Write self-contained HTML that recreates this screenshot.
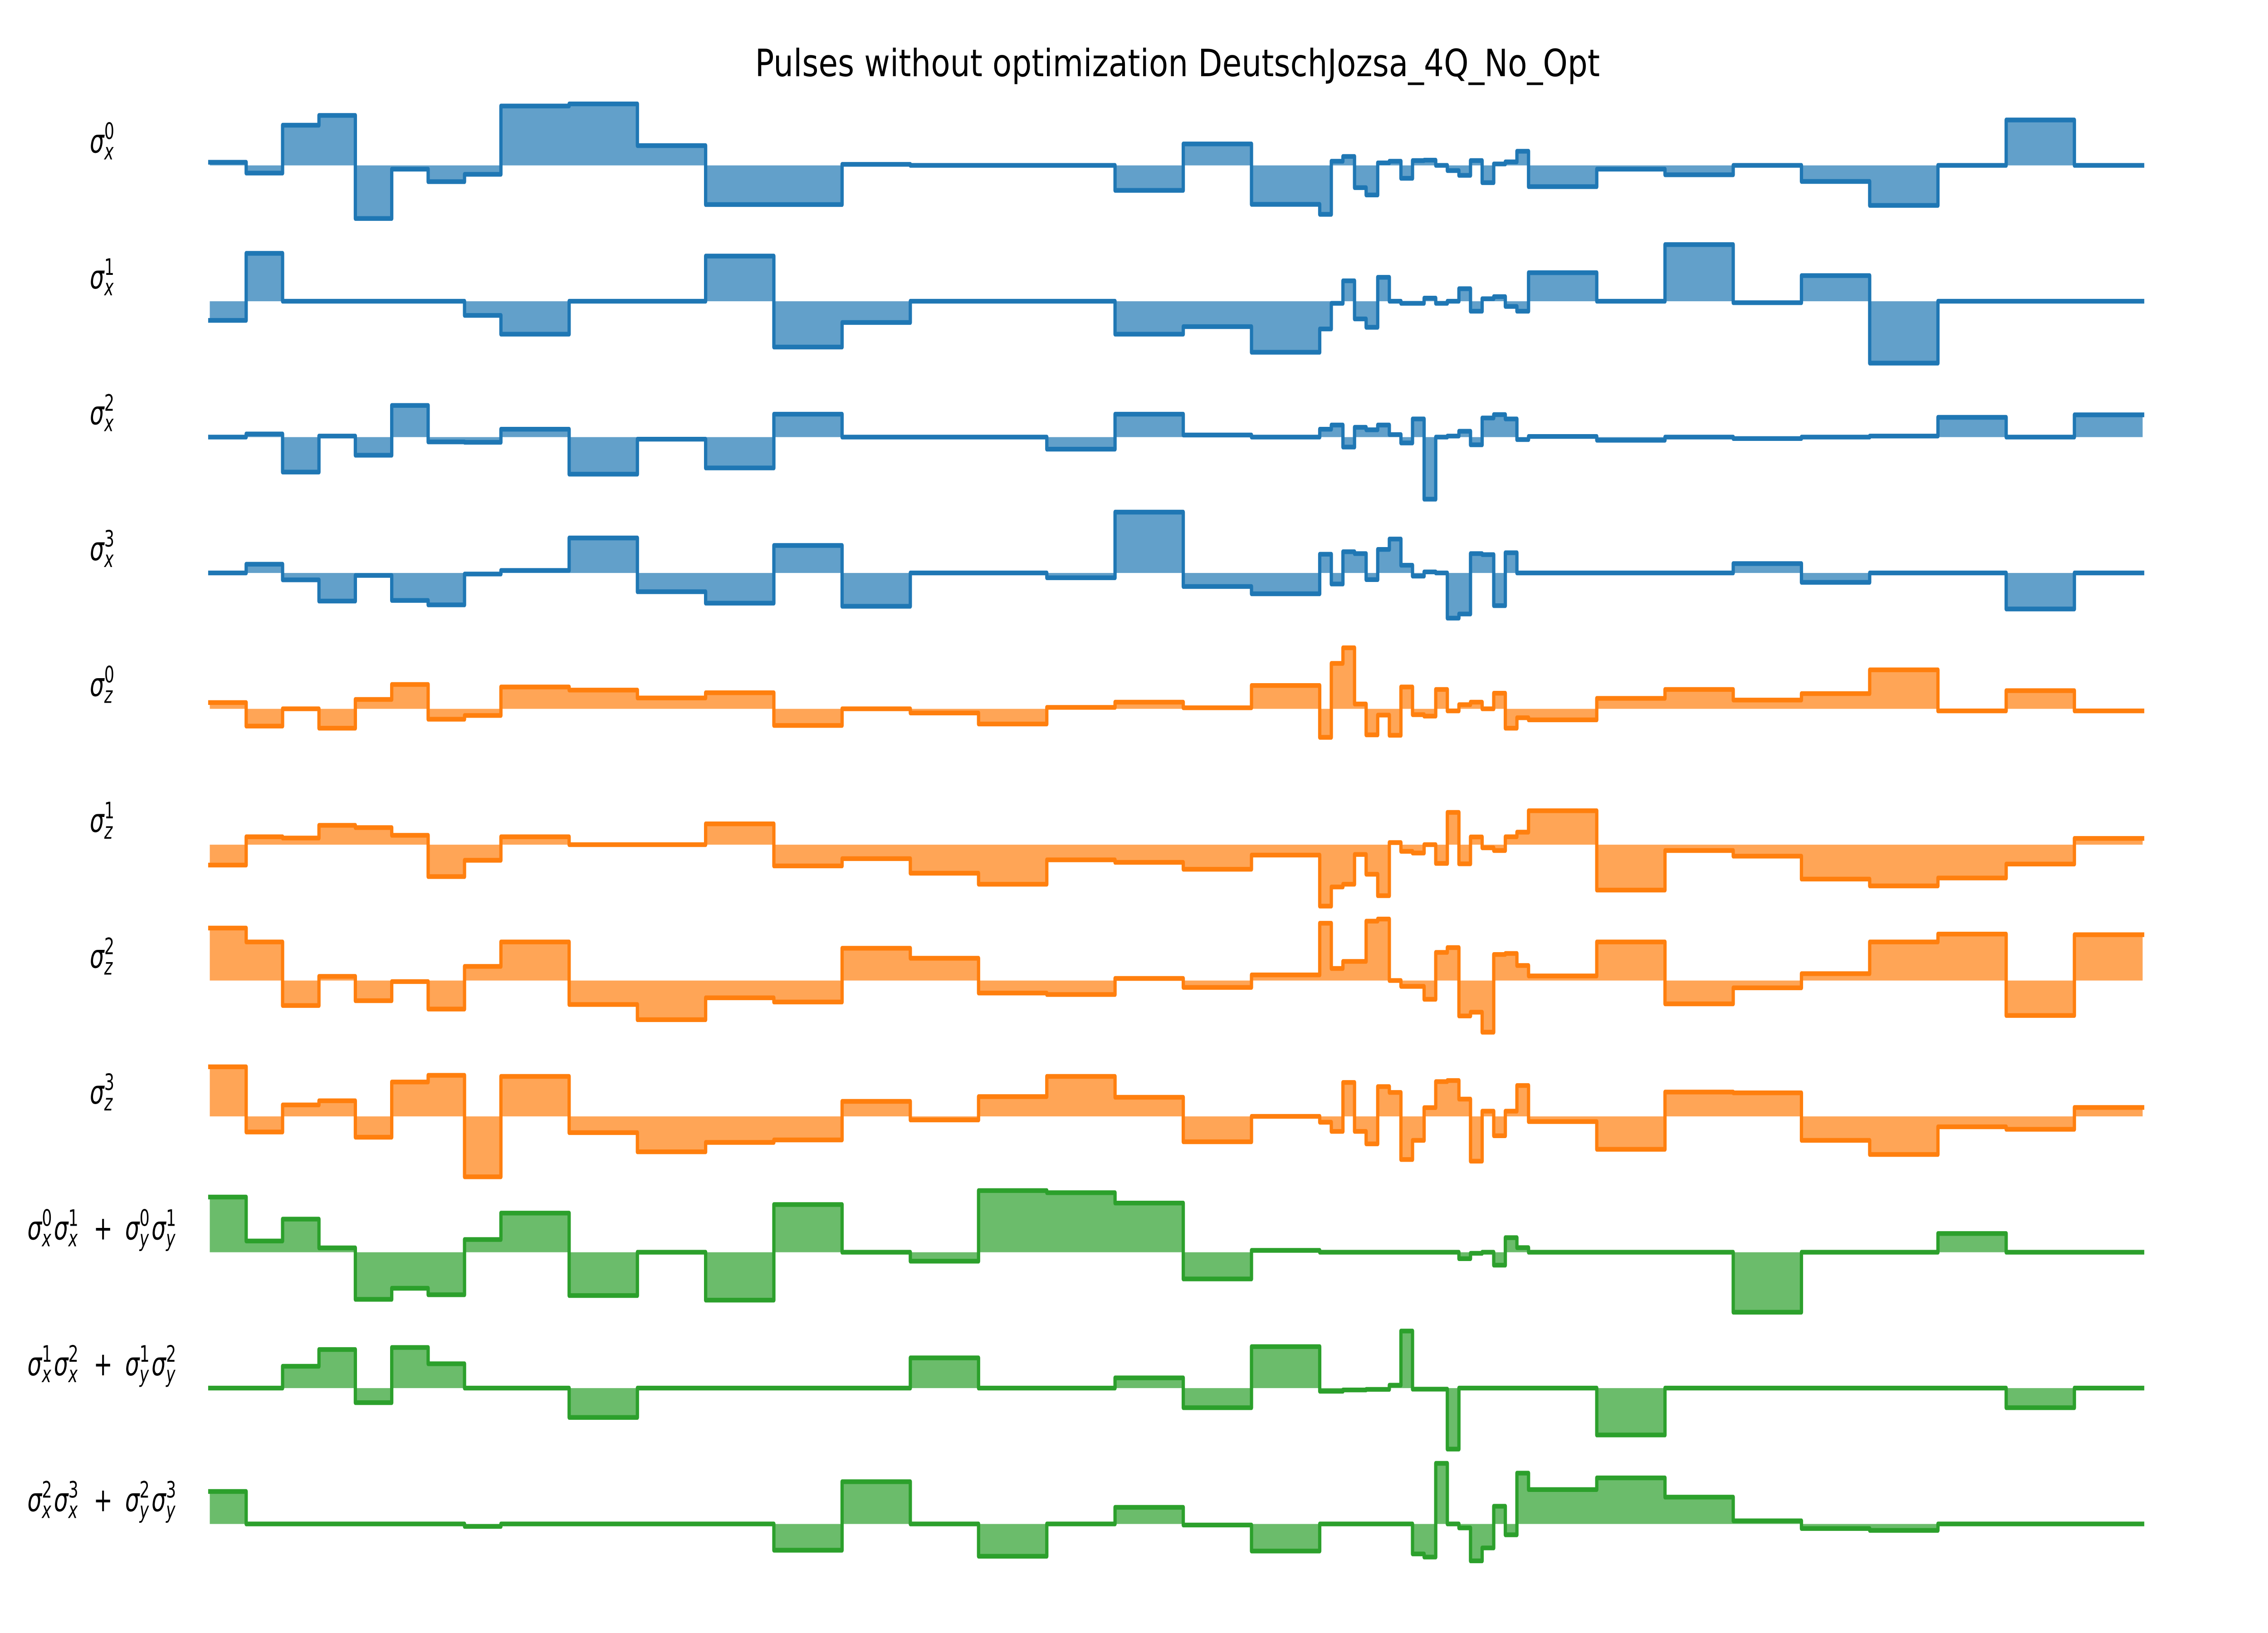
<!DOCTYPE html>
<html>
<head>
<meta charset="utf-8">
<meta name="viewport" content="width=7200, height=3600, initial-scale=1">
<style>
  html, body { margin: 0; padding: 0; background: #ffffff; width: 100%; height: 100%; overflow: hidden; }
  svg { display: block; width: 100vw; height: 100vh; }
  text { font-family: "DejaVu Sans", "Liberation Sans", sans-serif; fill: #000; }
</style>
</head>
<body>
<svg id="chart" xmlns="http://www.w3.org/2000/svg" viewBox="0 0 7200 3600" preserveAspectRatio="none">
  <rect x="0" y="0" width="7200" height="3600" fill="#ffffff"/>
  <text x="3738" y="168" font-size="83" text-anchor="middle" textLength="2682" lengthAdjust="spacingAndGlyphs">Pulses without optimization DeutschJozsa_4Q_No_Opt</text>
  <g id="plots"></g>
  <g id="labels"></g>
</svg>
<script>
// ---- data: slot durations (time units) ----
const durations = [16,16,16,16,16,16,16,16,
  30,30,30,30,30,30,30,30,30,30,30,30,
  5.1,5.1,5.1,5.1,5.1,5.1,5.1,5.1,5.1,5.1,5.1,5.1,5.1,5.1,5.1,5.1,5.1,5.1,
  30,30,30,30,30,30,30,30,30];

// ---- data: pulse amplitudes per channel (one value per slot) ----
const sigmaX0 = [1.5,-3.7,19.3,24,-25.5,-1.8,-7.8,-4.3,28.5,29.5,9.5,-18.8,-18.8,0.5,0,0,0,-12,10.3,-18.7,
  -23.5,2,4.3,-10.7,-14.2,1.2,2,-6.2,2.3,2.5,0,-2.5,-4.8,2.3,-8.3,0.7,1.7,6.8,
  -10.2,-1.8,-4.5,0,-7.7,-19.2,0,21.8,0];
const sigmaX1 = [-9.2,23,0,0,0,0,0,-6.8,-15.8,0,0,21.7,-22,-10.2,0,0,0,-15.8,-12.2,-24.5,
  -13.3,-1,9.8,-8.5,-12.5,11.5,0,-1,-1,1.5,-1,0,6,-4.8,1.2,2.2,-2.5,-4.8,
  13.7,0,27.2,-0.7,12.3,-29.7,0,0,0];
const sigmaX2 = [0,1.5,-16.8,0.5,-8.7,15.2,-2.3,-2.5,3.8,-17.8,-1,-14.8,11,0,0,0,-5.8,11,1,0,
  3.8,5.8,-4.8,4.7,3.5,5.8,1.2,-2.8,8.7,-29.8,0,0.5,2.8,-3.7,9.2,10.8,8.7,-1.2,
  0.3,-1.5,0,-0.7,0,0.5,9.5,0,10.7];
const sigmaX3 = [0,4.2,-3.3,-13.5,-1.2,-13.2,-15.3,-0.5,1.2,16.8,-9,-14.5,13.2,-16,0,0,-2.3,29.2,-6.5,-10,
  9,-5.3,10.2,9.3,-3.2,11.3,16.3,3.7,-1.5,0.5,0,-21.7,-19.7,9.3,8.8,-15.7,9.7,0,
  0,0,0,4.5,-4.5,0,0,-17.3,0];
const sigmaZ0 = [3,-8.3,0,-9.3,4.5,11.7,-5,-3.2,10.5,9,5.2,7.7,-8,0,-2,-7.3,0.7,3.2,0.5,11.2,
  -13.7,21.8,29.3,2.3,-12.5,-3,-12.7,10.5,-2.8,-3.5,9.3,-1,2,3.2,0,7.5,-9.3,-4.3,
  -5.3,5,9.3,4.2,7.3,18.7,-1,8.7,-1];
const sigmaZ1 = [-9.8,3.8,3.2,9.3,8.2,4.5,-15.3,-7.5,3.8,0,0,10,-10.2,-6.7,-13.7,-19,-7.3,-8.5,-11.8,-5,
  -29.5,-20.3,-19,-4.7,-14.2,-24.5,1,-3.2,-4,0,-9,15.5,-9.2,3.7,-1.5,-2.8,3.8,6,
  16.3,-21.8,-2.8,-5.5,-16.5,-19.8,-16,-9.3,3];
const sigmaZ2 = [25.2,18.5,-12,2,-9.7,-0.5,-13.7,6.8,18.5,-11.5,-18.8,-8.3,-10.3,15.5,10.7,-6,-6.7,1,-3.3,2.7,
  27.5,5.8,9.2,9.2,28.5,29.5,0,-2.8,-2.8,-9,13.5,15.8,-17,-15.2,-24.8,12.5,13,7.2,
  2.2,18.5,-11.2,-3.5,3.3,18.5,22.3,-16.8,22];
const sigmaZ3 = [23.8,-7.5,5.5,7.5,-10,16.5,19.7,-29,19.2,-7.8,-17,-12.5,-11.3,7.2,-1.7,9.5,19.2,9.2,-12.2,0,
  -2.8,-7.2,16.3,-7.2,-13.2,14.3,11.5,-20.7,-11.5,4.2,16.7,17.2,8.3,-21.5,2.5,-9.3,2.5,14.8,
  -2.5,-15.8,11.7,11.3,-11.5,-18.3,-5,-6.2,4.3];
const coupling01 = [26.5,5.4,15.9,2.1,-22.6,-17.3,-20.4,6.1,18.8,-20.8,0,-23,22.9,0,-4.3,29.6,28.6,23.6,-12.8,0.9,
  0,0,0,0,0,0,0,0,0,0,0,0,-3.1,-0.5,0,-6.2,7,2.2,
  0,0,0,-28.8,0,0,9,0,0];
const coupling12 = [0,0,10.5,18.5,-7,19.5,11.7,0,0,-14.1,0,0,0,0,14.5,0,0,4.9,-9.4,19.9,
  -1.5,-1.5,-0.9,-0.9,-0.6,-0.6,1.4,27.4,-0.5,-0.5,-0.5,-29.3,0,0,0,0,0,0,
  0,-22.5,0,0,0,0,0,-9.4,0];
const coupling23 = [15.6,0,0,0,0,0,0,-1.2,0,0,0,0,-12.6,20.3,0,-15.5,0,8,-0.5,-13,
  0,0,0,0,0,0,0,0,-14.4,-15.9,29.1,0,-1.9,-17.7,-11.5,8.5,-5.2,24.4,
  16.5,22.1,12.9,1.5,-2.2,-3.1,0,0,0];

const seriesList = [sigmaX0, sigmaX1, sigmaX2, sigmaX3, sigmaZ0, sigmaZ1, sigmaZ2, sigmaZ3, coupling01, coupling12, coupling23];
const seriesNames = ['sigma-x0','sigma-x1','sigma-x2','sigma-x3','sigma-z0','sigma-z1','sigma-z2','sigma-z3','coupling-01','coupling-12','coupling-23'];

// ---- layout / styling (not data) ----
const NS = 'http://www.w3.org/2000/svg';
const X0 = 666, X1 = 6802;
const ROW0 = 364.6, ROW_STEP = 299.5, AMP_PX = 4.592;
const colors = ['#1f77b4','#1f77b4','#1f77b4','#1f77b4','#ff7f0e','#ff7f0e','#ff7f0e','#ff7f0e','#2ca02c','#2ca02c','#2ca02c'];

const tTotal = durations.reduce((a, b) => a + b, 0);
const tEdges = [0];
durations.forEach(d => tEdges.push(tEdges[tEdges.length - 1] + d));
function xScale(t) { return X0 + (t / tTotal) * (X1 - X0); }
function rowBase(i) { return ROW0 + i * ROW_STEP; }
function yScale(i, v) { return rowBase(i) - v * AMP_PX; }

const plots = document.getElementById('plots');
seriesList.forEach((vals, i) => {
  const g = document.createElementNS(NS, 'g');
  
  
  const base = rowBase(i);
  const pts = [];
  vals.forEach((v, k) => {
    const y = yScale(i, v);
    pts.push([xScale(tEdges[k]), y]);
    pts.push([xScale(tEdges[k + 1]), y]);
  });
  const fillPts = [[xScale(0), base]].concat(pts).concat([[xScale(tTotal), base]]);
  const fill = document.createElementNS(NS, 'polygon');
  
  
  fill.setAttribute('points', fillPts.map(p => p[0].toFixed(1) + ',' + p[1].toFixed(1)).join(' '));
  fill.setAttribute('fill', colors[i]);
  fill.setAttribute('fill-opacity', '0.7');
  g.appendChild(fill);
  const line = document.createElementNS(NS, 'polyline');
  
  
  line.setAttribute('points', pts.map(p => p[0].toFixed(1) + ',' + p[1].toFixed(1)).join(' '));
  line.setAttribute('fill', 'none');
  line.setAttribute('stroke', colors[i]);
  line.setAttribute('stroke-width', '10.4');
  line.setAttribute('stroke-linejoin', 'round');
  line.setAttribute('stroke-linecap', 'square');
  g.appendChild(line);
  plots.appendChild(g);
});

// ---- row labels ----
const labels = document.getElementById('labels');
const FS = 72, SUBFS = 50;
function addText(parent, x, y, str, size, italic) {
  const t = document.createElementNS(NS, 'text');
  
  
  t.setAttribute('x', x.toFixed(1));
  t.setAttribute('y', y.toFixed(1));
  t.setAttribute('font-size', size);
  if (italic) t.setAttribute('font-style', 'italic');
  t.textContent = str;
  parent.appendChild(t);
}
function drawTerm(parent, x, y, sub, sup) {
  addText(parent, x, y, 'σ', FS, true);
  addText(parent, x + 46, y + 15, sub, SUBFS, true);
  addText(parent, x + 46, y - 30, sup, SUBFS, false);
  return x + 46 + 38;
}
const labelDefs = [
  [['x','0']], [['x','1']], [['x','2']], [['x','3']],
  [['z','0']], [['z','1']], [['z','2']], [['z','3']],
  [['x','0'],['x','1'],'+',['y','0'],['y','1']],
  [['x','1'],['x','2'],'+',['y','1'],['y','2']],
  [['x','2'],['x','3'],'+',['y','2'],['y','3']]
];
labelDefs.forEach((def, i) => {
  const g = document.createElementNS(NS, 'g');
  
  
  const y = rowBase(i) - 28;
  let x = def.length === 1 ? 285 : 87;
  def.forEach(p => {
    if (p === '+') {
      x += 42;
      addText(g, x, y, '+', FS, false);
      x += 58 + 42;
    } else {
      x = drawTerm(g, x, y, p[0], p[1]);
    }
  });
  labels.appendChild(g);
});
</script>
</body>
</html>
